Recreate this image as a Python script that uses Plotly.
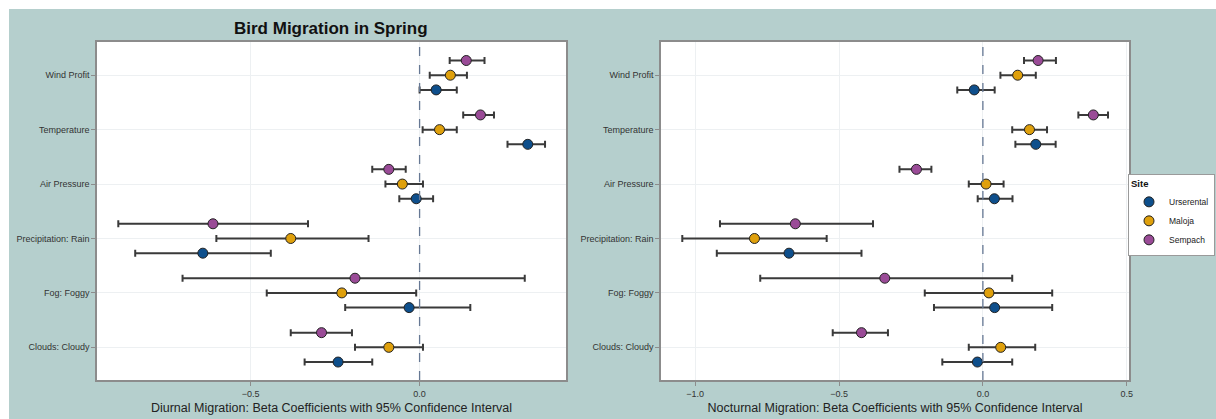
import plotly.graph_objects as go

# ---------------- data ----------------
categories = ["Wind Profit", "Temperature", "Air Pressure",
              "Precipitation: Rain", "Fog: Foggy", "Clouds: Cloudy"]
sites = ["Urserental", "Maloja", "Sempach"]

# Diurnal (left panel)
diurnal_est = {
    "Urserental": [0.049, 0.320, -0.010, -0.641, -0.031, -0.241],
    "Maloja":     [0.091, 0.059, -0.051, -0.381, -0.230, -0.091],
    "Sempach":    [0.138, 0.180, -0.091, -0.611, -0.191, -0.290],
}
diurnal_lo = {
    "Urserental": [0.000, 0.260, -0.060, -0.841, -0.220, -0.340],
    "Maloja":     [0.030, 0.009, -0.101, -0.601, -0.452, -0.191],
    "Sempach":    [0.089, 0.129, -0.140, -0.891, -0.701, -0.381],
}
diurnal_hi = {
    "Urserental": [0.110, 0.371, 0.040, -0.440, 0.150, -0.140],
    "Maloja":     [0.140, 0.110, 0.010, -0.151, -0.010, 0.010],
    "Sempach":    [0.192, 0.220, -0.041, -0.330, 0.311, -0.200],
}

# Nocturnal (right panel)
nocturnal_est = {
    "Urserental": [-0.030, 0.184, 0.040, -0.674, 0.041, -0.019],
    "Maloja":     [0.121, 0.162, 0.011, -0.794, 0.021, 0.062],
    "Sempach":    [0.192, 0.384, -0.231, -0.652, -0.341, -0.422],
}
nocturnal_lo = {
    "Urserental": [-0.089, 0.113, -0.018, -0.925, -0.170, -0.141],
    "Maloja":     [0.061, 0.102, -0.049, -1.045, -0.202, -0.049],
    "Sempach":    [0.143, 0.332, -0.290, -0.914, -0.774, -0.522],
}
nocturnal_hi = {
    "Urserental": [0.041, 0.253, 0.103, -0.422, 0.241, 0.102],
    "Maloja":     [0.184, 0.223, 0.072, -0.543, 0.241, 0.182],
    "Sempach":    [0.254, 0.435, -0.179, -0.382, 0.102, -0.330],
}

site_colors = {"Urserental": "#0e4f8c", "Maloja": "#dfa00c", "Sempach": "#9a4b97"}
dodge = {"Urserental": -0.27, "Maloja": 0.0, "Sempach": 0.27}

left_ticks = [-0.5, 0.0]
right_ticks = [-1.0, -0.5, 0.0, 0.5]

# ---------------- layout helpers (pixels) ----------------
W, H = 1216, 419
ML, MR, MT, MB = 97, 87, 42, 39
PW, PH = W - ML - MR, H - MT - MB


def px_x(p):
    return (p - ML) / PW


def px_y(p):
    return (H - MB - p) / PH


fig = go.Figure()
n = len(categories)
cat_pos = [n - i for i in range(n)]

panels = [
    ("x", "y", diurnal_est, diurnal_lo, diurnal_hi, True),
    ("x2", "y2", nocturnal_est, nocturnal_lo, nocturnal_hi, False),
]
for xa, ya, est, lo, hi, show in panels:
    for s in sites:
        e = est[s]
        fig.add_trace(go.Scatter(
            x=e,
            y=[p + dodge[s] for p in cat_pos],
            xaxis=xa, yaxis=ya,
            mode="markers",
            name=s,
            legendgroup=s,
            showlegend=show,
            marker=dict(size=10, color=site_colors[s],
                        line=dict(color="#222222", width=1)),
            error_x=dict(type="data", symmetric=False,
                         array=[h - v for h, v in zip(hi[s], e)],
                         arrayminus=[v - l for v, l in zip(e, lo[s])],
                         color="#3a3a3a", thickness=2, width=3.5),
        ))

axis_common = dict(
    showgrid=True, gridcolor="#edf0f2", gridwidth=1,
    zeroline=False, showline=True, mirror=True,
    linecolor="#8c8c8c", linewidth=1.5,
    ticks="outside", ticklen=4, tickcolor="#8c8c8c",
    tickfont=dict(family="Liberation Sans, Arial", size=9, color="#333333"),
)

fig.update_layout(
    width=W, height=H,
    margin=dict(l=ML, r=MR, t=MT, b=MB, autoexpand=False),
    paper_bgcolor="#b5cfcd",
    plot_bgcolor="white",
    font=dict(family="Liberation Sans, Arial", color="#222222"),
    xaxis=dict(domain=[0, px_x(566)], range=[-0.954, 0.433],
               tickvals=left_ticks, tickformat=".1f",
               title=dict(text="Diurnal Migration: Beta Coefficients with 95% Confidence Interval",
                          font=dict(size=12.5, color="#222222"), standoff=6),
               **axis_common),
    yaxis=dict(domain=[0, 1], range=[0.4, 6.61], anchor="x",
               tickvals=cat_pos, ticktext=categories, **axis_common),
    xaxis2=dict(domain=[px_x(661), 1], range=[-1.119, 0.508], anchor="y2",
                tickvals=right_ticks, tickformat=".1f",
                title=dict(text="Nocturnal Migration: Beta Coefficients with 95% Confidence Interval",
                           font=dict(size=12.5, color="#222222"), standoff=6),
                **axis_common),
    yaxis2=dict(domain=[0, 1], range=[0.4, 6.61], anchor="x2",
                tickvals=cat_pos, ticktext=categories, **axis_common),
    legend=dict(
        xref="container", yref="container",
        x=1215 / W, y=1 - 174 / H, xanchor="right", yanchor="top",
        bgcolor="white", bordercolor="#9a9a9a", borderwidth=1,
        title=dict(text="<b>Site</b>", font=dict(size=9.5, color="#111111")),
        font=dict(size=8.5, color="#222222"),
        itemwidth=30,
        tracegroupgap=0,
    ),
)

# zero reference lines
for xr, yr in [("x", "y domain"), ("x2", "y2 domain")]:
    fig.add_shape(type="line", xref=xr, yref=yr, x0=0, x1=0, y0=0, y1=1,
                  line=dict(color="#667894", width=1.3, dash="dash"), layer="above")

# white outer strips (top and left) of the page
fig.add_shape(type="rect", xref="paper", yref="paper",
              x0=px_x(0), x1=px_x(W), y0=px_y(9), y1=px_y(0),
              fillcolor="white", line=dict(width=0), layer="above")
fig.add_shape(type="rect", xref="paper", yref="paper",
              x0=px_x(0), x1=px_x(9), y0=px_y(H), y1=px_y(0),
              fillcolor="white", line=dict(width=0), layer="above")

# title
fig.add_annotation(text="<b>Bird Migration in Spring</b>", xref="paper", yref="paper",
                   x=px_x(331), y=px_y(28), xanchor="center", yanchor="middle",
                   showarrow=False, font=dict(size=17, color="#111111"))

fig.write_html("out.html")
